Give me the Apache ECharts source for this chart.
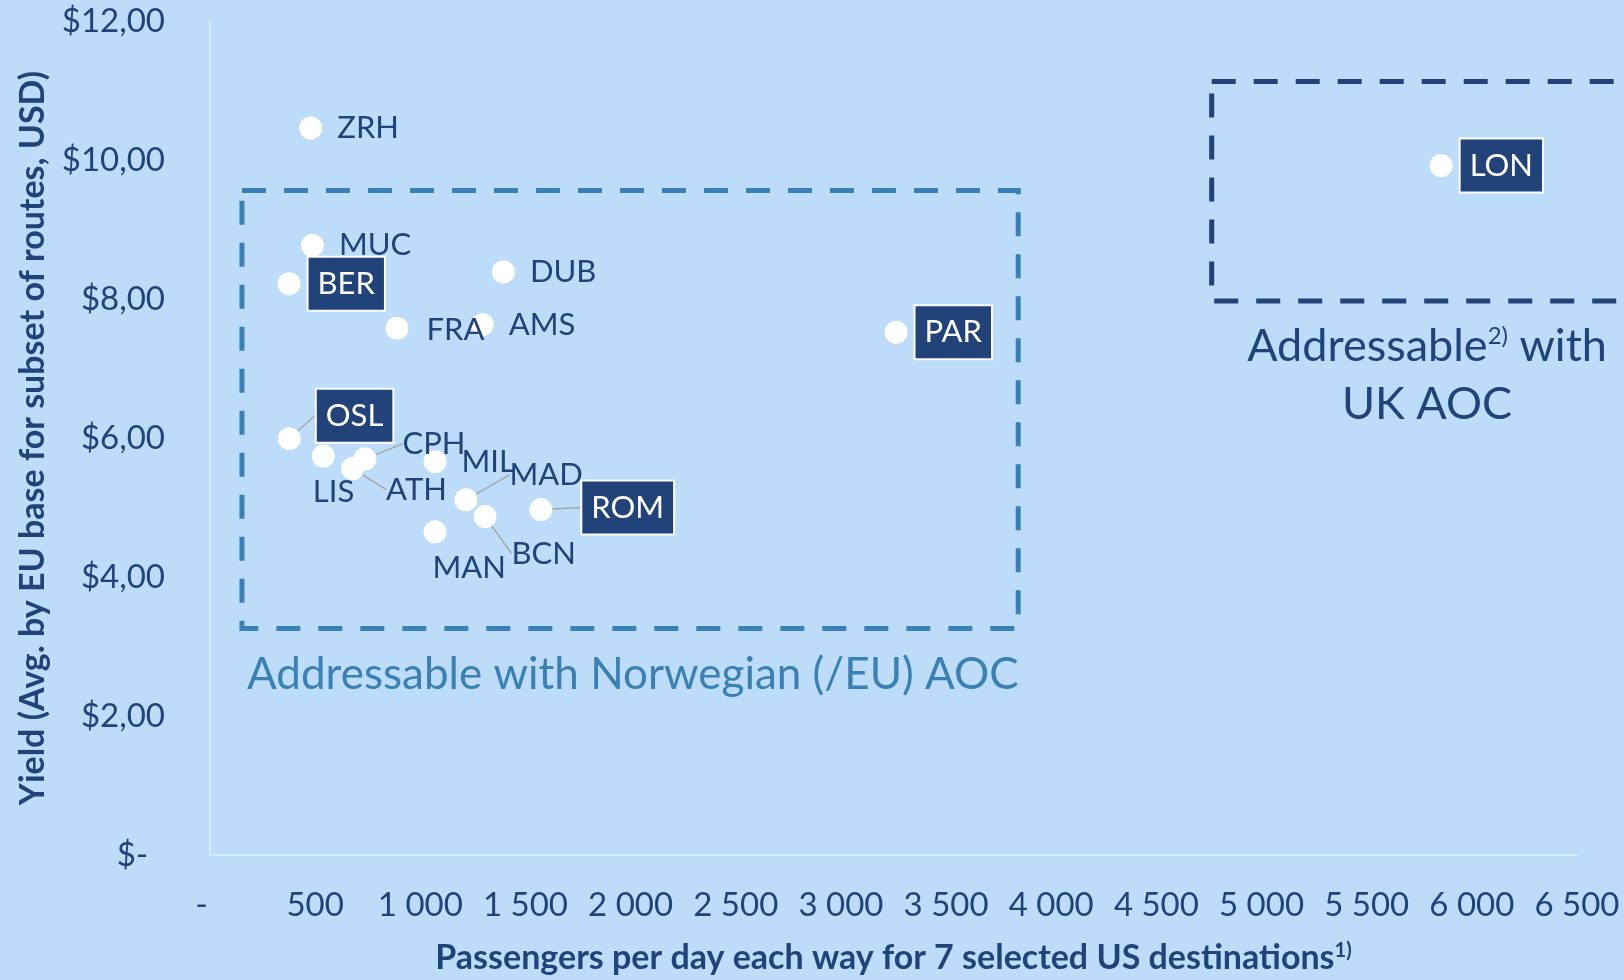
<!DOCTYPE html>
<html><head><meta charset="utf-8">
<script src="https://cdn.jsdelivr.net/npm/echarts@6/dist/echarts.min.js"></script>
<style>html,body{margin:0;padding:0;background:#bcdcfa;}#c{width:1624px;height:980px;}</style>
</head><body><div id="c"></div>
<script>
// ---- data ----
const codes      = ['ZRH','MUC','BER','DUB','FRA','AMS','OSL','LIS','ATH','CPH','MIL','MAD','MAN','BCN','ROM','PAR','LON'];
const passengers = [479, 487, 376, 1395, 889, 1295, 377, 539, 678, 737, 1070, 1217, 1070, 1308, 1573, 3262, 5854];
const yields     = [10.46, 8.77, 8.22, 8.39, 7.58, 7.63, 5.99, 5.74, 5.56, 5.70, 5.66, 5.11, 4.65, 4.87, 4.97, 7.52, 9.92];
const highlighted = ['BER','OSL','ROM','PAR','LON'];
const xTickLabels = ['-  ','500','1 000','1 500','2 000','2 500','3 000','3 500','4 000','4 500','5 000','5 500','6 000','6 500'];
const yTickLabels = ['$-  ','$2,00','$4,00','$6,00','$8,00','$10,00','$12,00'];
// box extents in data units: [xLeft, yTop, xRight, yBottom]
const euBox = [152, 9.56, 3843, 3.26];
const ukBox = [4763, 11.13, 7000, 7.97];

// ---- label placement (layout, not data) ----
const labelShift = {LIS:[-37,36], ATH:[7,21], CPH:[11,-15], MAD:[17,-25], MAN:[-29,36], BCN:[0,37], ROM:[22,-2], OSL:[8,-23], FRA:[3,2]};
const withLeader = ['OSL','CPH','ATH','MAD','BCN','ROM'];

const NAVY = '#22427a', STEEL = '#3a80b4', FONT = 'Lato';

const points = codes.map((c, i) => {
  const item = { name: c, value: [passengers[i], yields[i]] };
  if (highlighted.includes(c)) {
    item.label = { color: '#ffffff', backgroundColor: NAVY, borderColor: '#ffffff', borderWidth: 2,
                   lineHeight: 34, padding: [9, 9, 9, 9], distance: 8 };
  }
  item.labelLine = { show: withLeader.includes(c), lineStyle: { color: '#a6a6a6', width: 1.5 } };
  return item;
});

const chart = echarts.init(document.getElementById('c'), null, { renderer: 'canvas' });
chart.setOption({
  backgroundColor: '#bcdcfa',
  animation: false,
  grid: { left: 210, right: 47, top: 21, bottom: 119 },
  xAxis: {
    type: 'value', min: 0, max: 6500, interval: 500,
    axisLine: { lineStyle: { color: '#d6e9fb', width: 2 } },
    axisTick: { show: false }, splitLine: { show: false },
    axisLabel: { margin: 34, color: NAVY, fontFamily: FONT, fontSize: 33,
                 formatter: v => xTickLabels[Math.round(v / 500)] },
    name: 'Passengers per day each way for 7 selected US destinations{s|1)}',
    nameLocation: 'middle', nameGap: 86,
    nameTextStyle: { color: NAVY, fontFamily: FONT, fontWeight: 'bold', fontSize: 34,
      rich: { s: { color: NAVY, fontFamily: FONT, fontWeight: 'bold', fontSize: 20, verticalAlign: 'top', padding: [0,0,12,0] } } }
  },
  yAxis: {
    type: 'value', min: 0, max: 12, interval: 2,
    axisLine: { show: true, lineStyle: { color: '#d6e9fb', width: 2 } },
    axisTick: { show: false }, splitLine: { show: false },
    axisLabel: { margin: 45, color: NAVY, fontFamily: FONT, fontSize: 33,
                 formatter: v => yTickLabels[Math.round(v / 2)] },
    name: 'Yield (Avg. by EU base for subset of routes, USD)',
    nameLocation: 'middle', nameGap: 160, nameRotate: 90,
    nameTextStyle: { color: NAVY, fontFamily: FONT, fontWeight: 'bold', fontSize: 34 }
  },
  series: [{
    type: 'scatter', symbol: 'circle', symbolSize: 23, z: 5,
    itemStyle: { color: '#ffffff', opacity: 1 },
    label: { show: true, position: 'right', distance: 15, formatter: '{b}',
             color: NAVY, fontFamily: FONT, fontSize: 31 },
    labelLine: { show: false },
    labelLayout: p => { const s = labelShift[codes[p.dataIndex]]; return s ? { dx: s[0], dy: s[1] } : {}; },
    data: points
  }]
});

function boxRect(b) {
  const p0 = chart.convertToPixel({ gridIndex: 0 }, [b[0], b[1]]);
  const p1 = chart.convertToPixel({ gridIndex: 0 }, [b[2], b[3]]);
  return { x: p0[0], y: p0[1], width: p1[0] - p0[0], height: p1[1] - p0[1] };
}
chart.setOption({
  graphic: [
    { type: 'rect', z: 1, shape: boxRect(euBox), style: { fill: 'none', stroke: STEEL, lineWidth: 5, lineDash: [24, 18] } },
    { type: 'rect', z: 1, shape: boxRect(ukBox), style: { fill: 'none', stroke: NAVY, lineWidth: 5, lineDash: [24, 18] } },
    { type: 'text', z: 1, x: 247, y: 675,
      style: { text: 'Addressable with Norwegian (/EU) AOC', fill: STEEL, font: '44px Lato', verticalAlign: 'middle', align: 'left' } },
    { type: 'text', z: 1, x: 1427, y: 375,
      style: { text: '{a|Addressable}{s|2)}{a| with}\n{a|UK AOC}', align: 'center', verticalAlign: 'middle',
        rich: { a: { fill: NAVY, font: '45px Lato', lineHeight: 58 },
                s: { fill: NAVY, font: '24px Lato', lineHeight: 58, verticalAlign: 'top', padding: [7,0,0,0] } } } }
  ]
});
</script></body></html>
